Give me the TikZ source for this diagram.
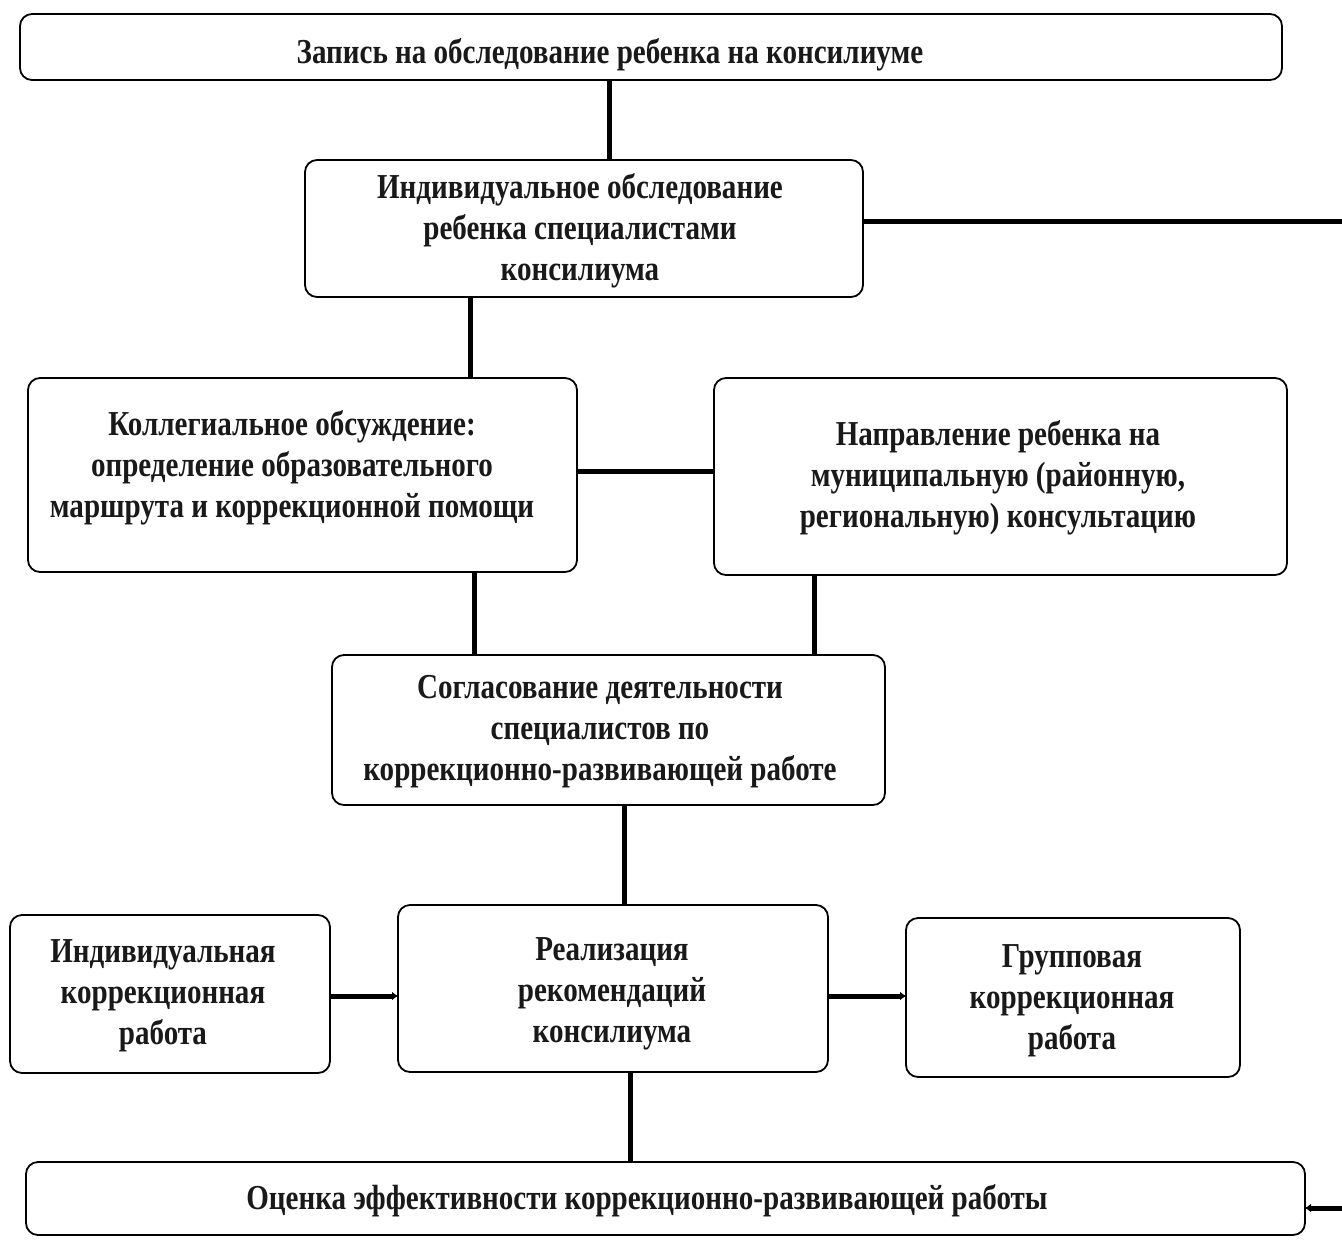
\documentclass[tikz,border=0pt]{standalone}
\usepackage{fontspec}
\setmainfont{Liberation Serif}[FakeStretch=0.83]
\usetikzlibrary{arrows.meta}
\begin{document}
\begin{tikzpicture}[x=1pt,y=-1pt,
  box/.style={draw, line width=1.8pt, rounded corners=12pt, inner sep=0pt, outer sep=0pt},
  txt/.style={align=center, inner sep=0pt, font=\fontsize{35}{41}\selectfont\bfseries, text=black!90},
  conn/.style={line width=5pt},
  arr/.style={line width=5pt, -{Latex[length=6pt,width=9pt]}}]
\useasboundingbox (0,0) rectangle (1342,1243);
\fill[white] (0,0) rectangle (1342,1243);
% boxes
\node[box, minimum width=1262pt, minimum height=66pt] (b1) at (651,47) {};
\node[box, minimum width=558pt, minimum height=137pt] (b2) at (584,228.5) {};
\node[box, minimum width=549pt, minimum height=194pt] (b3) at (302.5,475) {};
\node[box, minimum width=573pt, minimum height=197pt] (b4) at (1000.5,476.5) {};
\node[box, minimum width=553pt, minimum height=150pt] (b5) at (608.5,730) {};
\node[box, minimum width=430pt, minimum height=167pt] (b6) at (613,988.5) {};
\node[box, minimum width=320pt, minimum height=158pt] (b7) at (170,994) {};
\node[box, minimum width=334pt, minimum height=159pt] (b8) at (1073,997.5) {};
\node[box, minimum width=1279pt, minimum height=73pt] (b9) at (665.5,1198.5) {};
% texts
\node[txt] (t1) at (610,55) {Запись на обследование ребенка на консилиуме};
\node[txt] (t2) at (580,231) {Индивидуальное обследование\\ребенка специалистами\\консилиума};
\node[txt] (t3) at (292,468) {Коллегиальное обсуждение:\\определение образовательного\\маршрута и коррекционной помощи};
\node[txt] (t4) at (998,478) {Направление ребенка на\\муниципальную (районную,\\региональную) консультацию};
\node[txt] (t5) at (600,732) {Согласование деятельности\\специалистов по\\коррекционно-развивающей работе};
\node[txt] (t6) at (612,994) {Реализация\\рекомендаций\\консилиума};
\node[txt] (t7) at (163,996) {Индивидуальная\\коррекционная\\работа};
\node[txt] (t8) at (1072,1001) {Групповая\\коррекционная\\работа};
\node[txt] (t9) at (647,1201) {Оценка эффективности коррекционно-развивающей работы};
% free ends
\coordinate (r1) at (1342,221);
\coordinate (r2) at (1342,1208);
% connectors
\draw[conn] (609,0 |- b1.south) -- (609,0 |- b2.north);
\draw[conn] (b2.east |- r1) -- (r1);
\draw[conn] (470,0 |- b2.south) -- (470,0 |- b3.north);
\draw[conn] (b3.east |- 0,471) -- (b4.west |- 0,471);
\draw[conn] (474,0 |- b3.south) -- (474,0 |- b5.north);
\draw[conn] (814,0 |- b4.south) -- (814,0 |- b5.north);
\draw[conn] (624,0 |- b5.south) -- (624,0 |- b6.north);
\draw[arr] (b7.east |- 0,996) -- (b6.west |- 0,996);
\draw[arr] (b6.east |- 0,996) -- (b8.west |- 0,996);
\draw[conn] (630,0 |- b6.south) -- (630,0 |- b9.north);
\draw[arr] (r2) -- (b9.east |- r2);
\end{tikzpicture}
\end{document}
